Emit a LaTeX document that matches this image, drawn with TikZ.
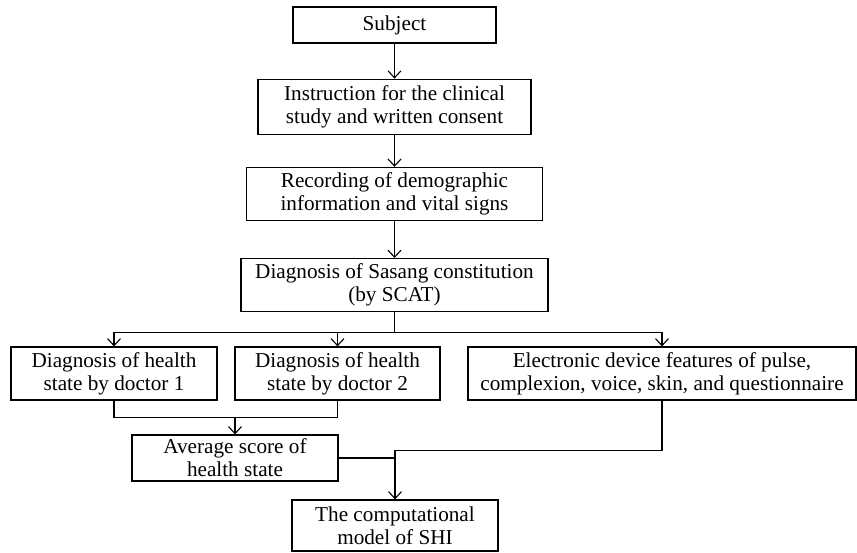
\documentclass[tikz,border=0pt]{standalone}
\usepackage{fontspec}
\setmainfont{Liberation Serif}
\usetikzlibrary{positioning,arrows.meta}

\begin{document}
\begin{tikzpicture}[x=1pt, y=1pt, line width=1.2pt,
    box/.style={draw, align=center, inner sep=0pt, minimum height=53pt,
      font=\fontsize{21.2}{23}\selectfont},
    arr/.style={-{Straight Barb[length=7pt,width=13pt,line width=1.1pt]}}]
        \useasboundingbox (0,0) rectangle (857,-552);
        % Main chain
        \node[box, minimum width=203pt, minimum height=36pt] (subject) at (394.5,-25) {Subject};
        \node[box, minimum width=273pt, minimum height=55pt, below=35pt of subject] (instr) {Instruction for the clinical\\study and written consent};
        \node[box, minimum width=296pt, below=32pt of instr] (rec) {Recording of demographic\\information and vital signs};
        \node[box, minimum width=307pt, below=37pt of rec] (sasang) {Diagnosis of Sasang constitution\\(by SCAT)};
        % Three branches
        \node[box, minimum width=206pt] (doc1) at (114,-373.5) {Diagnosis of health\\state by doctor 1};
        \node[box, minimum width=205pt] (doc2) at (337.5,-373.5) {Diagnosis of health\\state by doctor 2};
        \node[box, minimum width=388pt] (elec) at (662,-373.5) {Electronic device features of pulse,\\complexion, voice, skin, and questionnaire};
        % Result boxes
        \node[box, minimum width=206pt, minimum height=46pt] (avg) at (235,-458) {Average score of\\health state};
        \node[box, minimum width=206pt, minimum height=51pt] (comp) at (395,-525.5) {The computational\\model of SHI};
        % Edges
        \draw[arr] (subject) -- (instr);
        \draw[arr] (instr) -- (rec);
        \draw[arr] (rec) -- (sasang);
        \draw (sasang.south) -- ++(0,-20pt) coordinate (split);
        \draw[arr] (split) -| (doc1.north);
        \draw[arr] (split) -| (doc2.north);
        \draw[arr] (split) -| (elec.north);
        \draw (doc1.south) -- ++(0,-17pt) coordinate (j1) -| (doc2.south);
        \draw[arr] (j1 -| avg.north) -- (avg.north);
        \draw (elec.south) -- ++(0,-50pt) coordinate (e1);
        \draw[arr] (e1) -| (comp.north);
        \draw (avg.east) -- (avg.east -| comp.north);
        \end{tikzpicture}
\end{document}
